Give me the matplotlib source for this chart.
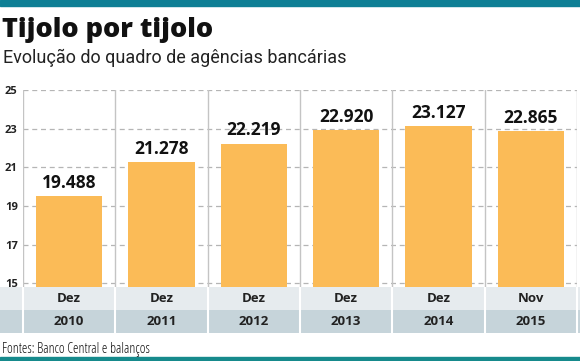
import numpy as np
import matplotlib.pyplot as plt
from matplotlib.patches import Rectangle

months = ['Dez', 'Dez', 'Dez', 'Dez', 'Dez', 'Nov']
years = ['2010', '2011', '2012', '2013', '2014', '2015']
agencias = [19.488, 21.278, 22.219, 22.920, 23.127, 22.865]
labels = ['19.488', '21.278', '22.219', '22.920', '23.127', '22.865']
yticks = [15, 17, 19, 21, 23, 25]

W, H = 580, 361
fig = plt.figure(figsize=(W / 100, H / 100), dpi=100)

def box(x0, y0, x1, y1):
    # pixel coords (top-left origin) -> figure fraction rect
    return [x0 / W, 1 - y1 / H, (x1 - x0) / W, (y1 - y0) / H]

teal = '#0e7f95'
bar_col = '#fbbb57'
cond = dict(family='Open Sans', stretch='condensed')

# top and bottom stripes
fig.patches.append(Rectangle((0, 1 - 6 / H), 1, 6 / H, transform=fig.transFigure, color=teal))
fig.patches.append(Rectangle((0, 0), 1, 4 / H, transform=fig.transFigure, color='#168a8c'))

fig.text(2 / W, 1 - 37 / H, 'Tijolo por tijolo', fontsize=19.5, fontweight='heavy',
         color='#111111', **cond)
fig.text(3 / W, 1 - 63 / H, 'Evolução do quadro de agências bancárias', fontsize=13,
         family='Roboto', color='#222222')

# main chart
ax = fig.add_axes(box(23, 90, 577, 287))
x = np.arange(len(agencias))
ax.bar(x, agencias, width=0.72, color=bar_col, zorder=2)
for xi, v, lab in zip(x, agencias, labels):
    ax.text(xi, v + 0.22, lab, ha='center', va='bottom', fontsize=12.5,
            fontweight='bold', color='#111111', zorder=3, **cond)
ax.set_xlim(-0.5, len(agencias) - 0.5)
ax.set_ylim(14.8, 25)
for yt in yticks:
    ax.axhline(yt, color='#b5b5b5', lw=0.9, ls=(0, (4, 3)), zorder=1)
for b in np.arange(-0.5, len(agencias), 1.0):
    ax.axvline(b, color='#c4c4c4', lw=1, zorder=1)
for s in ax.spines.values():
    s.set_visible(False)
ax.set_xticks([])
ax.set_yticks(yticks)
ax.set_yticklabels([str(t) for t in yticks], fontsize=8, fontweight='bold', color='#222222',
                   **cond)
ax.tick_params(axis='y', length=0, pad=13)
for lab in ax.get_yticklabels():
    lab.set_horizontalalignment('left')
ax.patch.set_alpha(0)

# month / year bands
px = 554 / 6
band = fig.add_axes(box(0, 287, 580, 333))
band.set_xlim(-0.5 - 23 / px, 5.5 + 3 / px)
band.set_ylim(0, 2)
band.axhspan(1, 2, color='#e6ebee', lw=0)
band.axhspan(0, 1, color='#c6d4da', lw=0)
for b in np.arange(-0.5, len(years), 1.0):
    band.axvline(b, color='white', lw=1.5)
for xi, m, yr in zip(x, months, years):
    band.text(xi, 1.5, m, ha='center', va='center', fontsize=9.5, fontweight='bold',
              color='#222222', **cond)
    band.text(xi, 0.5, yr, ha='center', va='center', fontsize=9.5, fontweight='bold',
              color='#222222', **cond)
band.axis('off')

fig.text(2 / W, 1 - 353 / H, 'Fontes: Banco Central e balanços', fontsize=10,
         color='#111111', **cond)

fig.savefig('out.png', dpi=100)
